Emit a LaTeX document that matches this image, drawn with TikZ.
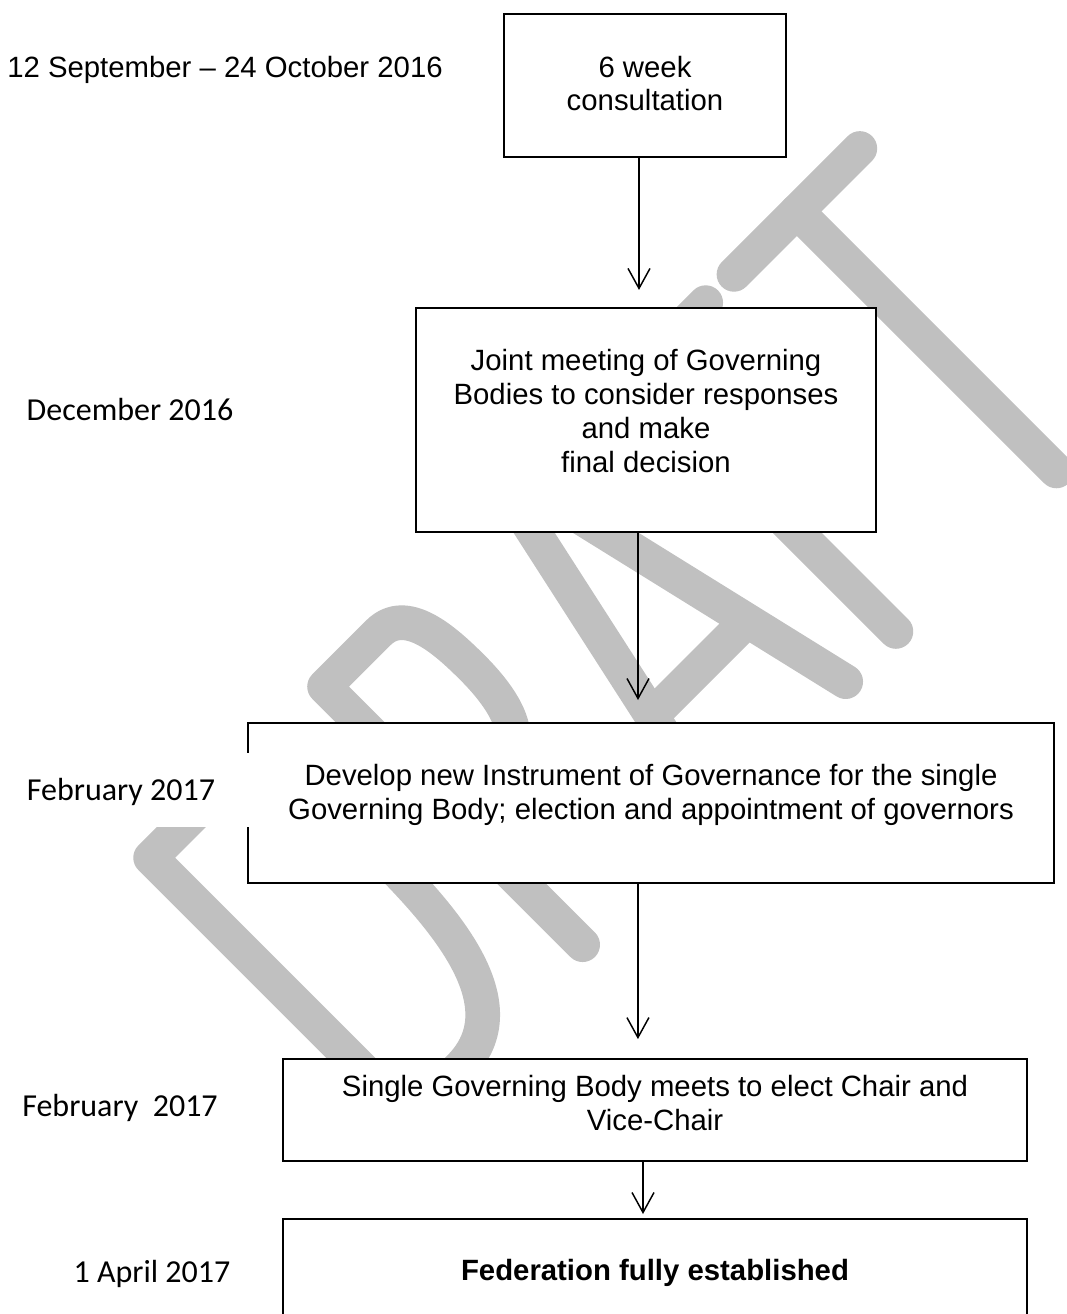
\documentclass[tikz,border=0pt]{standalone}
\usepackage{fontspec}
\setmainfont{Liberation Sans}
\newfontfamily\calibri{Carlito}
\usepackage{tikz}
\usetikzlibrary{arrows.meta}
\definecolor{wmgray}{RGB}{192,192,192}

\tikzset{
    stagebox/.style={draw=black,line width=0.75pt,fill=white,anchor=north west,inner sep=0pt,align=center,font=\fontsize{11}{12.65}\selectfont},
    datelabel/.style={fill=white,inner sep=0pt,text height=7.7pt,text depth=0pt,font=\calibri\fontsize{12}{14.4}\selectfont},
    flow/.style={draw=black,line width=0.55pt,-{Straight Barb[length=7.5pt,width=8.25pt]}},
    wm/.style={draw=wmgray,line width=13pt,line cap=round,line join=round}
}

\begin{document}
\begin{tikzpicture}[x=0.375pt,y=-0.375pt]
    \useasboundingbox (0,0) rectangle (1067,1314);
    \clip (0,0) rectangle (1067,1314);
    \fill[white] (0,0) rectangle (1067,1314);

    % DRAFT watermark
    \begin{scope}[x=0.375pt,y=0.375pt,rotate=45]
        \draw[wm] (-500,-1080) -- (-500,-713) -- (-420,-713) to[out=0,in=90] (-335,-870) to[out=-90,in=0] (-430,-1080) -- cycle;
        \draw[wm] (-256,-1080) -- (-256,-715) -- (-180,-715) to[out=0,in=90] (-138,-806) to[out=-90,in=0] (-185,-895) -- (-256,-895);
        \draw[wm] (-205,-895) -- (-130,-1080);
        \draw[wm] (-70,-1080) -- (10,-713) -- (30,-713) -- (116,-1080);
        \draw[wm] (-45,-967) -- (88,-967);
        \draw[wm] (187,-1080) -- (187,-713) -- (285,-713);
        \draw[wm] (187,-880) -- (265,-880);
        \draw[wm] (325,-713) -- (503,-713);
        \draw[wm] (414,-713) -- (414,-1080);
    \end{scope}

    \node[stagebox,minimum width=105.75pt,minimum height=53.6pt,text depth=1.5pt] (consult) at (503,13) {6 week\\consultation};
    \node[stagebox,minimum width=172.5pt,minimum height=84pt,text depth=6.8pt] (joint) at (415,307) {Joint meeting of Governing\\Bodies to consider responses\\and make\\final decision};
    \node[stagebox,minimum width=302.25pt,minimum height=60pt,text depth=8.3pt] (develop) at (247,722) {Develop new Instrument of Governance for the single\\Governing Body; election and appointment of governors};
    \node[stagebox,minimum width=279pt,minimum height=38.25pt,text depth=5.6pt] (elect) at (282,1058) {Single Governing Body meets to elect Chair and\\Vice-Chair};
    \node[stagebox,minimum width=279pt,minimum height=40.5pt] (established) at (282,1218) {\textbf{Federation fully established}};

    %\node[datelabel] at (0,0) {};
    \node[datelabel,text height=7.9pt,font=\fontsize{11}{13}\selectfont] (lblsep) at (225,67) {12 September – 24 October 2016};
    \node[datelabel] (lbldec) at (130,410) {December 2016};
    \node[datelabel,minimum width=96.75pt,minimum height=27.5pt] (lblfeb) at (121,790) {February 2017};
    \node[datelabel] (lblfebb) at (120,1106) {February\ \ 2017};
    \node[datelabel] (lblapr) at (152,1272) {1 April 2017};

    \draw[flow,shorten >=6.4pt] ([xshift=-2.25pt]consult.south) -- ([xshift=-2.25pt]consult.south |- joint.north);
    \draw[flow,shorten >=8.25pt] ([xshift=-3pt]joint.south) -- ([xshift=-3pt]joint.south |- develop.north);
    \draw[flow,shorten >=7.1pt] ([xshift=-4.9pt]develop.south) -- ([xshift=-4.9pt]develop.south |- elect.north);
    \draw[flow,shorten >=1.5pt] ([xshift=-4.5pt]elect.south) -- ([xshift=-4.5pt]elect.south |- established.north);
\end{tikzpicture}
\end{document}
